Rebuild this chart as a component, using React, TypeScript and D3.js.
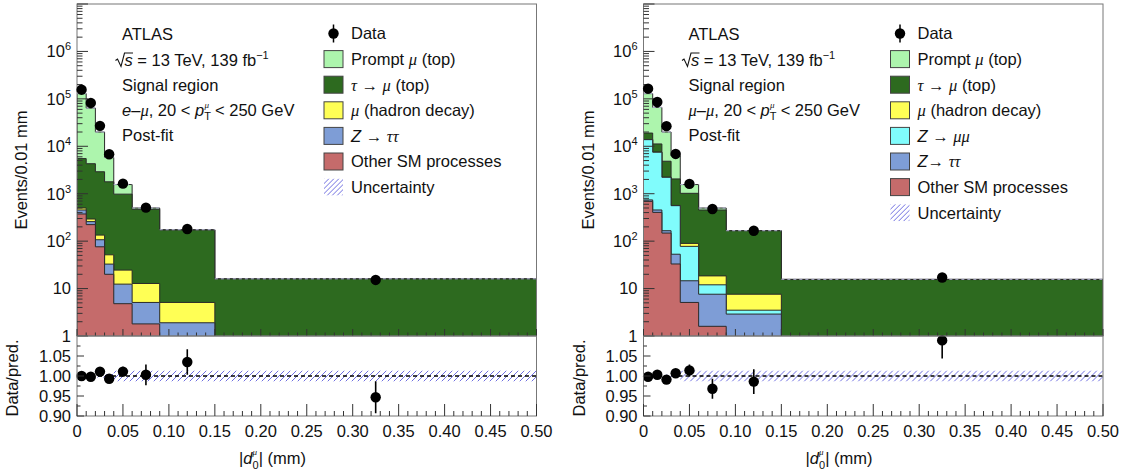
import React from 'react';
import * as d3 from 'd3';

// ---------- data ----------
const binEdges = [0, 0.01, 0.02, 0.03, 0.04, 0.06, 0.09, 0.15, 0.5];
const binCenters = [0.005, 0.015, 0.025, 0.035, 0.05, 0.075, 0.12, 0.325];

// e–μ channel (left)
const emuData = [156000, 82000, 27000, 6800, 1630, 508, 180, 15.2];
const emuPrompt = [123500, 59700, 17100, 4020, 580, 30, 2, 0.05];
const emuTauMu = [5000, 4000, 2770, 1730, 955, 457, 167, 15.4];
const emuHadron = [46, 35, 27, 18.7, 12.1, 7.7, 3.2, 0.2];
const emuZtautau = [80, 35, 31, 12.8, 7.6, 3.3, 1.4, 0.1];
const emuOther = [374, 223, 76, 20, 4.8, 1.8, 0.5, 0.3];
const emuRatio = [1.0, 0.998, 1.011, 0.993, 1.011, 1.003, 1.035, 0.947];
const emuRatioErr = [0.004, 0.005, 0.006, 0.008, 0.012, 0.026, 0.032, 0.04];
const emuUnc = [0.004, 0.004, 0.004, 0.005, 0.013, 0.013, 0.013, 0.013];

// μ–μ channel (right)
const mumuData = [164000, 86000, 26600, 6900, 1610, 476, 166, 17.1];
const mumuPrompt = [110000, 54800, 15160, 4250, 540, 46, 0.5, 0.2];
const mumuTauMu = [5140, 3660, 2605, 1484, 930, 435, 158, 15];
const mumuHadron = [60, 40, 15, 6, 12, 6.5, 4.1, 0.1];
const mumuZmumu = [13060, 7046, 2054, 507, 63, 4.4, 0.6, 0.1];
const mumuZtautau = [50, 50, 18, 20, 9.5, 6, 2.4, 0.1];
const mumuOther = [690, 404, 148, 33, 5.1, 1.6, 0.5, 0.2];
const mumuRatio = [0.998, 1.003, 0.991, 1.007, 1.014, 0.968, 0.986, 1.089];
const mumuRatioErr = [0.004, 0.005, 0.006, 0.008, 0.015, 0.025, 0.031, 0.045];
const mumuUnc = [0.004, 0.004, 0.004, 0.005, 0.013, 0.013, 0.013, 0.013];

const xTicksMajor = [0, 0.05, 0.1, 0.15, 0.2, 0.25, 0.3, 0.35, 0.4, 0.45, 0.5];
const xTickLabels = ['0', '0.05', '0.10', '0.15', '0.20', '0.25', '0.30', '0.35', '0.40', '0.45', '0.50'];
const ratioTicks = [0.9, 0.95, 1.0, 1.05];
const ratioTickLabels = ['0.90', '0.95', '1.00', '1.05'];
const logExponents = [0, 1, 2, 3, 4, 5, 6];

// ---------- style ----------
const COLORS = {
  prompt: '#adf5ad',
  taumu: '#2d6a1f',
  hadron: '#ffff55',
  zmumu: '#80fcfc',
  ztautau: '#7e9dd6',
  other: '#c56b6b',
};
const HATCH = '#6f6fe0';
const FONT = '"Liberation Sans", Arial, Helvetica, sans-serif';
const GREEK = '"Liberation Serif", "DejaVu Serif", serif';
const FS = 16.5;

const mainTop = 4;
const mainBottom = 336;
const ratioBottom = 416;
const panelW = 459.5;

type Comp = { key: string; color: string; values: number[]; label: React.ReactNode };

const G = (s: string) => (
  <tspan fontFamily={GREEK} fontStyle="italic">{s}</tspan>
);
const I = (s: string) => <tspan fontStyle="italic">{s}</tspan>;

function Panel(props: {
  id: string;
  x0: number;
  comps: Comp[]; // bottom to top
  data: number[];
  ratio: number[];
  ratioErr: number[];
  unc: number[];
  channel: React.ReactNode;
}) {
  const { id, x0, comps, data, ratio, ratioErr, unc, channel } = props;
  const x = d3.scaleLinear().domain([0, 0.5]).range([x0, x0 + panelW]);
  const y = d3.scaleLog().domain([1, 1e7]).range([mainBottom, mainTop]);
  const yr = d3.scaleLinear().domain([0.9, 1.1]).range([ratioBottom, mainBottom]);
  const n = binEdges.length - 1;

  const cums: number[][] = [];
  comps.forEach((c, i) => {
    cums.push(c.values.map((v, b) => v + (i > 0 ? cums[i - 1][b] : 0)));
  });
  const total = cums[cums.length - 1];

  const yB = mainBottom + 20;
  const stepPath = (vals: number[]) => {
    let p = `M${x(binEdges[0])},${yB}`;
    vals.forEach((v, i) => {
      const yy = Math.min(y(Math.max(v, 1e-3)), yB);
      p += `L${x(binEdges[i])},${yy}L${x(binEdges[i + 1])},${yy}`;
    });
    p += `L${x(binEdges[n])},${yB}Z`;
    return p;
  };

  const logMajor: number[] = [];
  const logMinor: number[] = [];
  for (let e = 0; e <= 7; e++) {
    logMajor.push(Math.pow(10, e));
    if (e < 7) for (let m = 2; m <= 9; m++) logMinor.push(m * Math.pow(10, e));
  }
  const xMinor = d3.range(0, 51).map((i) => i * 0.01);
  const rMinor = [0.925, 0.975, 1.025, 1.075];

  const legendComps = [...comps].reverse();
  const lx = x0 + 247;
  const rowH = 25.6;
  const row0 = 33.5;
  const ax = x0 + 45;

  const tickColor = '#333';

  // hatch lines for a rectangle (45°, "/" direction)
  const hatchLines = (rx: number, ry: number, rw: number, rh: number, step = 6) => {
    const segs: string[] = [];
    for (let k = -rh; k < rw + rh; k += step) {
      // line x - x_start = (ry+rh - y)
      const xa = rx + k;
      segs.push(`M${xa},${ry + rh}L${xa + rh},${ry}`);
    }
    return segs.join('');
  };

  return (
    <g fontFamily={FONT}>
      <defs>
        <clipPath id={`clipMain${id}`}>
          <rect x={x0} y={mainTop} width={panelW} height={mainBottom - mainTop} />
        </clipPath>
        <clipPath id={`clipRatio${id}`}>
          <rect x={x0} y={mainBottom} width={panelW} height={ratioBottom - mainBottom} />
        </clipPath>
        <clipPath id={`clipBand${id}`}>
          {unc.map((u, b) => (
            <rect
              key={'cb' + b}
              x={x(binEdges[b])}
              width={x(binEdges[b + 1]) - x(binEdges[b])}
              y={yr(1 + u)}
              height={yr(1 - u) - yr(1 + u)}
            />
          ))}
        </clipPath>
        <clipPath id={`clipLeg${id}`}>
          <rect x={lx} y={row0 + rowH * (legendComps.length + 1) - 8.5} width={19} height={17} />
        </clipPath>
      </defs>

      {/* stacked histograms */}
      <g clipPath={`url(#clipMain${id})`}>
        {cums
          .map((c, i) => ({ c, i }))
          .reverse()
          .map(({ c, i }) => (
            <path key={i} d={stepPath(c)} fill={comps[i].color} stroke="#2a2a2a" strokeWidth={1} />
          ))}
        {total.map((t, b) => (
          <line
            key={'u' + b}
            x1={x(binEdges[b])}
            x2={x(binEdges[b + 1])}
            y1={y(t)}
            y2={y(t)}
            stroke="#b8b8d8"
            strokeWidth={1}
            strokeDasharray="3,3"
          />
        ))}
      </g>

      <rect x={x0} y={mainTop} width={panelW} height={mainBottom - mainTop} fill="none" stroke="#777" strokeWidth={1} />

      {logMajor.map((v) => (
        <line key={'M' + v} x1={x0} x2={x0 + 11} y1={y(v)} y2={y(v)} stroke={tickColor} strokeWidth={1} />
      ))}
      {logMinor.map((v) => (
        <line key={'m' + v} x1={x0} x2={x0 + 5.5} y1={y(v)} y2={y(v)} stroke={tickColor} strokeWidth={1} />
      ))}
      {xMinor.map((v, i) => (
        <line
          key={'xm' + i}
          x1={x(v)}
          x2={x(v)}
          y1={mainBottom}
          y2={mainBottom - (i % 5 === 0 ? 7 : 3.5)}
          stroke={tickColor}
          strokeWidth={1}
        />
      ))}

      {logExponents.map((e) => (
        <text key={'yl' + e} x={x0 - 6} y={y(Math.pow(10, e)) + 5.8} fontSize={FS} textAnchor="end" fill="#111">
          {e === 0 ? '1' : e === 1 ? '10' : (
            <>
              10<tspan fontSize={11} dy={-7}>{e}</tspan>
            </>
          )}
        </text>
      ))}

      {data.map((d, b) => (
        <circle key={'d' + b} cx={x(binCenters[b])} cy={y(d)} r={5.2} fill="#000" />
      ))}

      {/* annotation */}
      <text x={ax} y={39.5} fontSize={FS} fill="#111">ATLAS</text>
      <path
        d={`M${ax - 6.5},${60.5} L${ax - 4.5},${59} L${ax - 1},${66.5} L${ax + 2.5},${53} L${ax + 11},${53}`}
        fill="none"
        stroke="#111"
        strokeWidth={1.1}
      />
      <text x={ax + 2.5} y={65.5} fontSize={FS} fill="#111">
        {I('s')} = 13 TeV, 139 fb<tspan fontSize={11} dy={-7}>−1</tspan>
      </text>
      <text x={ax} y={90.5} fontSize={FS} fill="#111">Signal region</text>
      <text x={ax} y={115.5} fontSize={FS} fill="#111">
        {channel}, 20 &lt; {I('p')}
        <tspan fontSize={11} dy={4}>T</tspan>
        <tspan fontSize={9} dx={-6.5} dy={-12} fontFamily={GREEK} fontStyle="italic">μ</tspan>
        <tspan fontSize={FS} dy={8} dx={1.5}> &lt; 250 GeV</tspan>
      </text>
      <text x={ax} y={141} fontSize={FS} fill="#111">Post-fit</text>

      {/* legend */}
      <line x1={lx + 9.5} x2={lx + 9.5} y1={row0 - 9} y2={row0 + 9} stroke="#000" strokeWidth={1.5} />
      <circle cx={lx + 9.5} cy={row0} r={5.2} fill="#000" />
      <text x={lx + 27} y={row0 + 5.8} fontSize={FS} fill="#111">Data</text>
      {legendComps.map((c, i) => {
        const cy = row0 + rowH * (i + 1);
        return (
          <g key={'lg' + c.key}>
            <rect x={lx} y={cy - 8.5} width={19} height={17} fill={c.color} stroke="#444" strokeWidth={1} />
            <text x={lx + 27} y={cy + 5.8} fontSize={FS} fill="#111">{c.label}</text>
          </g>
        );
      })}
      {(() => {
        const cy = row0 + rowH * (legendComps.length + 1);
        return (
          <g>
            <path
              d={hatchLines(lx, cy - 8.5, 19, 17, 5)}
              stroke={HATCH}
              strokeWidth={1}
              fill="none"
              clipPath={`url(#clipLeg${id})`}
            />
            <text x={lx + 27} y={cy + 5.8} fontSize={FS} fill="#111">Uncertainty</text>
          </g>
        );
      })()}

      {/* ratio panel */}
      <g clipPath={`url(#clipRatio${id})`}>
        <path
          d={hatchLines(x0, yr(1.02), panelW, yr(0.98) - yr(1.02), 6)}
          stroke={HATCH}
          strokeWidth={1}
          fill="none"
          clipPath={`url(#clipBand${id})`}
        />
        <line x1={x0} x2={x0 + panelW} y1={yr(1)} y2={yr(1)} stroke="#000" strokeWidth={1.3} strokeDasharray="4,3" />
        {ratio.map((r, b) => (
          <line
            key={'re' + b}
            x1={x(binCenters[b])}
            x2={x(binCenters[b])}
            y1={yr(r - ratioErr[b])}
            y2={yr(r + ratioErr[b])}
            stroke="#000"
            strokeWidth={1.6}
          />
        ))}
      </g>
      {ratio.map((r, b) => (
        <circle key={'rp' + b} cx={x(binCenters[b])} cy={yr(r)} r={5.2} fill="#000" />
      ))}
      <rect x={x0} y={mainBottom} width={panelW} height={ratioBottom - mainBottom} fill="none" stroke="#777" strokeWidth={1} />

      {ratioTicks.map((v) => (
        <line key={'rt' + v} x1={x0} x2={x0 + 7} y1={yr(v)} y2={yr(v)} stroke={tickColor} strokeWidth={1} />
      ))}
      {rMinor.map((v) => (
        <line key={'rtm' + v} x1={x0} x2={x0 + 3.5} y1={yr(v)} y2={yr(v)} stroke={tickColor} strokeWidth={1} />
      ))}
      {ratioTicks.map((v, i) => (
        <text key={'rl' + v} x={x0 - 6} y={yr(v) + 5.8} fontSize={FS} textAnchor="end" fill="#111">
          {ratioTickLabels[i]}
        </text>
      ))}
      {xMinor.map((v, i) => (
        <line
          key={'rxm' + i}
          x1={x(v)}
          x2={x(v)}
          y1={ratioBottom}
          y2={ratioBottom - (i % 5 === 0 ? 12 : 5)}
          stroke={tickColor}
          strokeWidth={1}
        />
      ))}
      {xTicksMajor.map((v, i) => (
        <text key={'xl' + i} x={x(v)} y={437} fontSize={FS} textAnchor="middle" fill="#111">
          {xTickLabels[i]}
        </text>
      ))}

      <text
        transform={`translate(${x0 - 50},${170}) rotate(-90)`}
        fontSize={FS}
        textAnchor="middle"
        fill="#111"
      >
        Events/0.01 mm
      </text>
      <text
        transform={`translate(${x0 - 59},${378}) rotate(-90)`}
        fontSize={FS}
        textAnchor="middle"
        fill="#111"
      >
        Data/pred.
      </text>
      <text x={x0 + 162} y={464} fontSize={FS} fill="#111">
        |{I('d')}
        <tspan fontSize={11} dy={5}>0</tspan>
        <tspan fontSize={9} dx={-6} dy={-14} fontFamily={GREEK} fontStyle="italic">μ</tspan>
        <tspan fontSize={FS} dy={9} dx={1.5}>| (mm)</tspan>
      </text>
    </g>
  );
}

export default function App() {
  const emuComps: Comp[] = [
    { key: 'other', color: COLORS.other, values: emuOther, label: 'Other SM processes' },
    { key: 'ztt', color: COLORS.ztautau, values: emuZtautau, label: <>{I('Z')} → {G('ττ')}</> },
    { key: 'had', color: COLORS.hadron, values: emuHadron, label: <>{G('μ')} (hadron decay)</> },
    { key: 'tau', color: COLORS.taumu, values: emuTauMu, label: <>{G('τ')} → {G('μ')} (top)</> },
    { key: 'prompt', color: COLORS.prompt, values: emuPrompt, label: <>Prompt {G('μ')} (top)</> },
  ];
  const mumuComps: Comp[] = [
    { key: 'other', color: COLORS.other, values: mumuOther, label: 'Other SM processes' },
    { key: 'ztt', color: COLORS.ztautau, values: mumuZtautau, label: <>{I('Z')}→ {G('ττ')}</> },
    { key: 'zmm', color: COLORS.zmumu, values: mumuZmumu, label: <>{I('Z')} → {G('μμ')}</> },
    { key: 'had', color: COLORS.hadron, values: mumuHadron, label: <>{G('μ')} (hadron decay)</> },
    { key: 'tau', color: COLORS.taumu, values: mumuTauMu, label: <>{G('τ')} → {G('μ')} (top)</> },
    { key: 'prompt', color: COLORS.prompt, values: mumuPrompt, label: <>Prompt {G('μ')} (top)</> },
  ];
  return (
    <svg
      width={1126}
      height={470}
      style={{ position: 'absolute', left: 0, top: 0, background: '#fff' }}
    >
      <rect width={1126} height={470} fill="#fff" />
      <Panel
        id="L"
        x0={77}
        comps={emuComps}
        data={emuData}
        ratio={emuRatio}
        ratioErr={emuRatioErr}
        unc={emuUnc}
        channel={<>{I('e')}–{G('μ')}</>}
      />
      <Panel
        id="R"
        x0={643.5}
        comps={mumuComps}
        data={mumuData}
        ratio={mumuRatio}
        ratioErr={mumuRatioErr}
        unc={mumuUnc}
        channel={<>{G('μ')}–{G('μ')}</>}
      />
    </svg>
  );
}
